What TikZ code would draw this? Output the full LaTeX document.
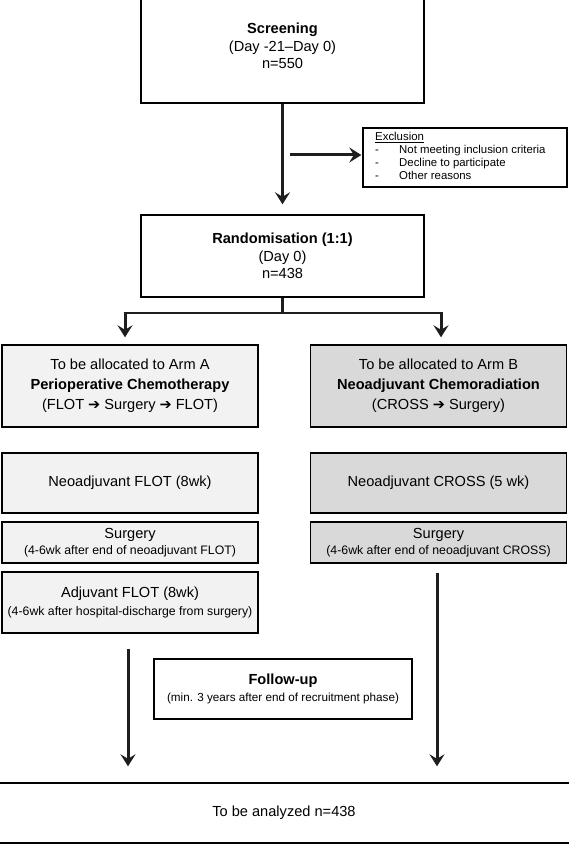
\documentclass[tikz,border=0pt]{standalone}
\usepackage{fontspec}
\setmainfont{Liberation Sans}
\newfontfamily\symf{DejaVu Sans}
\usetikzlibrary{arrows.meta}
\newcommand\bigf{\fontsize{14.6}{17.5}\selectfont}
\newcommand\smallf{\fontsize{12.3}{14}\selectfont}
\newcommand\exf{\fontsize{11.4}{13}\selectfont}
\newcommand\rarr{{\symf\fontsize{14.5}{14}\selectfont ➔}}
\definecolor{armA}{HTML}{F2F2F2}
\definecolor{armB}{HTML}{D9D9D9}
\definecolor{arrowc}{HTML}{1E1E1E}
\begin{document}
\begin{tikzpicture}[x=1pt,y=-1pt,
  box/.style={draw=black, line width=1.4pt, align=center, inner sep=0pt, font=\bigf},
  abox/.style={box, fill=armA, minimum width=256pt},
  bbox/.style={box, fill=armB, minimum width=256pt},
  arr/.style={draw=arrowc, line width=3pt, -{Stealth[length=12pt,width=15pt,inset=4.5pt]}},
  bline/.style={draw=arrowc, line width=2.6pt}
]
\useasboundingbox (0,0) rectangle (568,845);

% boxes
\node[box, minimum width=283pt, minimum height=114pt] (screen) at (282.5,46)
  {{\bfseries Screening}\\(Day -21–Day 0)\\n=550};
\node[box, minimum width=204pt, minimum height=59pt] (excl) at (465,157.5) {};
\node[anchor=north west, inner sep=0pt, font=\exf, align=left] (excltxt) at (375,131)
  {\begin{tabular}{@{}p{24pt}@{}l@{}}
   \multicolumn{2}{@{}l}{\underline{Exclusion}}\\
   - & Not meeting inclusion criteria\\
   - & Decline to participate\\
   - & Other reasons
   \end{tabular}};
\node[box, minimum width=283pt, minimum height=82pt] (rand) at (282.5,256)
  {{\bfseries Randomisation (1:1)}\\(Day 0)\\n=438};

\node[abox, minimum height=82pt] (armA) at (130,386)
  {To be allocated to Arm A\\[2.5pt]{\bfseries Perioperative Chemotherapy}\\[2.5pt](FLOT \rarr{} Surgery \rarr{} FLOT)};
\node[bbox, minimum height=82pt] (armB) at (438.5,386)
  {To be allocated to Arm B\\[2.5pt]{\bfseries Neoadjuvant Chemoradiation}\\[2.5pt](CROSS \rarr{} Surgery)};

\node[abox, minimum height=60pt] (neoA) at (130,483) {Neoadjuvant FLOT (8wk)};
\node[bbox, minimum height=60pt] (neoB) at (438.5,483) {Neoadjuvant CROSS (5 wk)};

\node[abox, minimum height=41pt] (surgA) at (130,542.5)
  {Surgery\\[-1pt]{\smallf (4-6wk after end of neoadjuvant FLOT)}};
\node[bbox, minimum height=41pt] (surgB) at (438.5,542.5)
  {Surgery\\[-1pt]{\smallf (4-6wk after end of neoadjuvant CROSS)}};

\node[abox, minimum height=61pt] (adjA) at (130,602.5)
  {Adjuvant FLOT (8wk)\\[1pt]{\smallf (4-6wk after hospital-discharge from surgery)}};

\node[box, minimum width=258pt, minimum height=60pt] (follow) at (283,689)
  {{\bfseries Follow-up}\\[-1pt]{\fontsize{11.7}{14}\selectfont (min. 3 years after end of recruitment phase)}};

\node[box, minimum width=580pt, minimum height=60pt] (final) at (284,813)
  {To be analyzed n=438};

% connectors
\draw[arr, shorten >=10pt] (screen.south) -- (rand.north);
\coordinate (exs) at (290,155);
\draw[arr, shorten >=1pt] (exs) -- (exs -| excl.west);

\coordinate (bl) at (125,313);
\coordinate (br) at (441,313);
\draw[bline] (rand.south) -- (rand.south |- bl);
\draw[bline, line cap=butt] ([xshift=-1.5pt]bl) -- ([xshift=1.5pt]br);
\draw[arr, shorten >=7pt] (bl) -- (bl |- armA.north);
\draw[arr, shorten >=7pt] (br) -- (br |- armB.north);

\draw[arr, shorten <=15pt, shorten >=16pt] ([xshift=-2pt]adjA.south) -- ([xshift=-2pt]adjA.south |- final.north);
\draw[arr, shorten <=9pt, shorten >=16pt] ([xshift=-1.5pt]surgB.south) -- ([xshift=-1.5pt]surgB.south |- final.north);
\end{tikzpicture}
\end{document}
